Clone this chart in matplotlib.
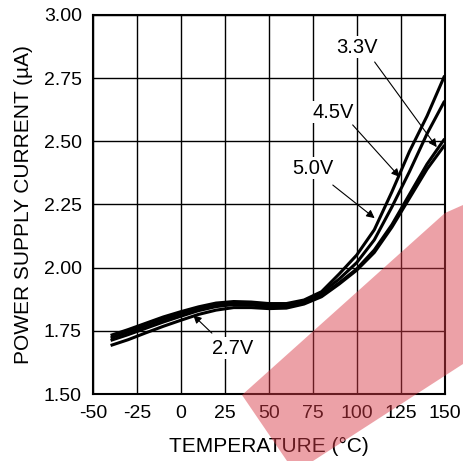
import matplotlib
matplotlib.use("Agg")
import matplotlib.pyplot as plt
from matplotlib.patches import Polygon

plt.rcParams['font.family'] = ['Liberation Sans', 'DejaVu Sans']
plt.rcParams['axes.unicode_minus'] = False

# temperature (deg C) and supply current (uA)
temp = [-40, -30, -20, -10, 0, 10, 20, 30, 40, 50, 60, 70, 80, 90, 100, 110, 120, 130, 140, 150]
i_50 = [1.732, 1.755, 1.780, 1.805, 1.826, 1.845, 1.860, 1.866, 1.864, 1.858,
        1.858, 1.872, 1.905, 1.975, 2.050, 2.150, 2.300, 2.460, 2.600, 2.760]
i_45 = [1.722, 1.745, 1.770, 1.795, 1.818, 1.838, 1.853, 1.860, 1.858, 1.852,
        1.853, 1.868, 1.900, 1.955, 2.020, 2.110, 2.240, 2.380, 2.530, 2.660]
i_33 = [1.712, 1.735, 1.760, 1.785, 1.808, 1.830, 1.846, 1.854, 1.852, 1.846,
        1.846, 1.860, 1.890, 1.940, 1.995, 2.070, 2.170, 2.290, 2.410, 2.510]
i_27 = [1.692, 1.715, 1.742, 1.768, 1.792, 1.815, 1.832, 1.842, 1.842, 1.838,
        1.840, 1.856, 1.885, 1.935, 1.990, 2.060, 2.160, 2.275, 2.390, 2.485]

x_ticks = [-50, -25, 0, 25, 50, 75, 100, 125, 150]
y_ticks = [1.50, 1.75, 2.00, 2.25, 2.50, 2.75, 3.00]

fig = plt.figure(figsize=(4.63, 4.61), dpi=100)
ax = fig.add_axes([0.2009, 0.1453, 0.7594, 0.8222])

for series in (i_50, i_45, i_33, i_27):
    ax.plot(temp, series, color="black", lw=2.2, solid_capstyle="butt", zorder=3)

ax.set_xlim(-50, 150)
ax.set_ylim(1.5, 3.0)
ax.set_xticks(x_ticks)
ax.set_yticks(y_ticks)
ax.set_yticklabels([f"{v:.2f}" for v in y_ticks])
ax.grid(True, color="black", lw=1.0)
ax.set_axisbelow(True)
ax.tick_params(length=0, labelsize=14)
ax.tick_params(axis="x", pad=8)
ax.tick_params(axis="y", pad=8)
for s in ax.spines.values():
    s.set_linewidth(1.5)

ax.set_xlabel("TEMPERATURE (°C)", fontsize=15, labelpad=11)
ax.set_ylabel("POWER SUPPLY CURRENT (µA)", fontsize=15, labelpad=8)

arrow = dict(arrowstyle="-|>", color="black", lw=0.8, mutation_scale=12,
             shrinkA=0, shrinkB=0)
box = dict(facecolor="white", edgecolor="none", pad=1.0)
labels = [("3.3V", (100, 2.873), (110.2, 2.814), (145.5, 2.477)),
          ("4.5V", (86.4, 2.616), (97.7, 2.565), (124.4, 2.359)),
          ("5.0V", (75, 2.394), (86.4, 2.327), (110.2, 2.196)),
          ("2.7V", (29.5, 1.682), (17.6, 1.741), (7.0, 1.812))]
for txt, pos, tail, tip in labels:
    ax.text(pos[0], pos[1], txt, fontsize=14.5, ha="center", va="center",
            bbox=box, zorder=5)
    ax.annotate("", xy=tip, xytext=tail, arrowprops=arrow, zorder=6)

# red watermark in the lower right corner (figure pixels)
W, H = 463, 461
band = [(242, 395), (445, 213), (463, 205), (463, 364), (313, 461), (287, 461)]
fig.patches.append(Polygon([(x / W, 1 - y / H) for x, y in band], closed=True,
                           transform=fig.transFigure, facecolor="#d83c48",
                           edgecolor="none", alpha=0.48, zorder=10))

fig.savefig("out.png", dpi=100)
